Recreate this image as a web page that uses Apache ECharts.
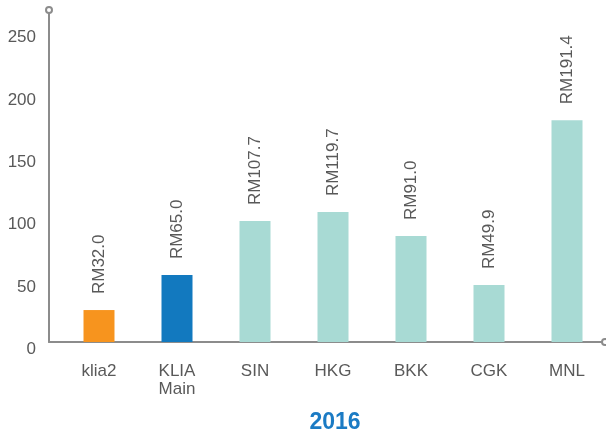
<!DOCTYPE html>
<html>
<head>
<meta charset="utf-8">
<script src="https://cdn.jsdelivr.net/npm/echarts@6/dist/echarts.min.js"></script>
<style>
  html, body { margin: 0; padding: 0; background: #fff; }
  #chart { width: 606px; height: 434px; }
</style>
</head>
<body>
<div id="chart"></div>
<script>
// data
var categories = ['klia2', 'KLIA\nMain', 'SIN', 'HKG', 'BKK', 'CGK', 'MNL']
var barValues = [25.6, 53.6, 96.9, 104.1, 84.9, 45.6, 177.7]
var priceLabels = ['RM32.0', 'RM65.0', 'RM107.7', 'RM119.7', 'RM91.0', 'RM49.9', 'RM191.4']
var barColors = ['#F7941E', '#1279BF', '#A8DAD4', '#A8DAD4', '#A8DAD4', '#A8DAD4', '#A8DAD4']
var yTicks = [0, 50, 100, 150, 200, 250]
var yearTitle = '2016'

var font = 'Liberation Sans, Arial, sans-serif'
var textGray = '#595959'
var axisGray = '#8c8c8c'
var yMax = 266

var chart = echarts.init(document.getElementById('chart'))

chart.setOption({
  animation: false,
  title: {
    text: yearTitle,
    left: 330,
    top: 406,
    textAlign: 'center',
    textStyle: { color: '#1B7BC4', fontSize: 23, fontWeight: 'bold', fontFamily: font }
  },
  grid: [
    // axis frame
    { left: 49, right: 1, top: 10, bottom: 92 },
    // bars
    { left: 60, right: -7, top: 10, bottom: 92 }
  ],
  xAxis: [
    {
      gridIndex: 0,
      type: 'value',
      min: 0,
      max: 1,
      axisLabel: { show: false },
      axisTick: { show: false },
      splitLine: { show: false },
      axisLine: {
        show: true,
        symbol: ['none', 'emptyCircle'],
        symbolSize: [6, 6],
        lineStyle: { color: axisGray, width: 2 }
      }
    },
    {
      gridIndex: 1,
      type: 'category',
      data: categories,
      axisLine: { show: false },
      axisTick: { show: false },
      axisLabel: {
        color: textGray,
        fontSize: 17,
        fontFamily: font,
        margin: 20,
        lineHeight: 18,
        interval: 0
      }
    }
  ],
  yAxis: [
    {
      gridIndex: 0,
      type: 'value',
      min: 0,
      max: yMax,
      interval: 50,
      splitLine: { show: false },
      axisTick: { show: false },
      axisLine: {
        show: true,
        symbol: ['none', 'emptyCircle'],
        symbolSize: [6, 6],
        lineStyle: { color: axisGray, width: 2 }
      },
      axisLabel: {
        color: textGray,
        fontSize: 17,
        fontFamily: font,
        margin: 13,
        verticalAlign: 'top',
        lineHeight: 15,
        showMaxLabel: false,
        formatter: function(v) {
          return yTicks.indexOf(v) >= 0 ? String(v) : ''
        }
      }
    },
    {
      gridIndex: 1,
      type: 'value',
      min: 0,
      max: yMax,
      show: false
    }
  ],
  series: [
    {
      type: 'bar',
      xAxisIndex: 1,
      yAxisIndex: 1,
      barWidth: 31,
      data: barValues.map(function(v, i) {
        return { value: v, itemStyle: { color: barColors[i] } }
      }),
      label: {
        show: true,
        position: 'top',
        distance: 16,
        rotate: 90,
        align: 'left',
        verticalAlign: 'middle',
        color: textGray,
        fontSize: 17,
        fontFamily: font,
        formatter: function(p) {
          return priceLabels[p.dataIndex]
        }
      }
    }
  ]
})
</script>
</body>
</html>
